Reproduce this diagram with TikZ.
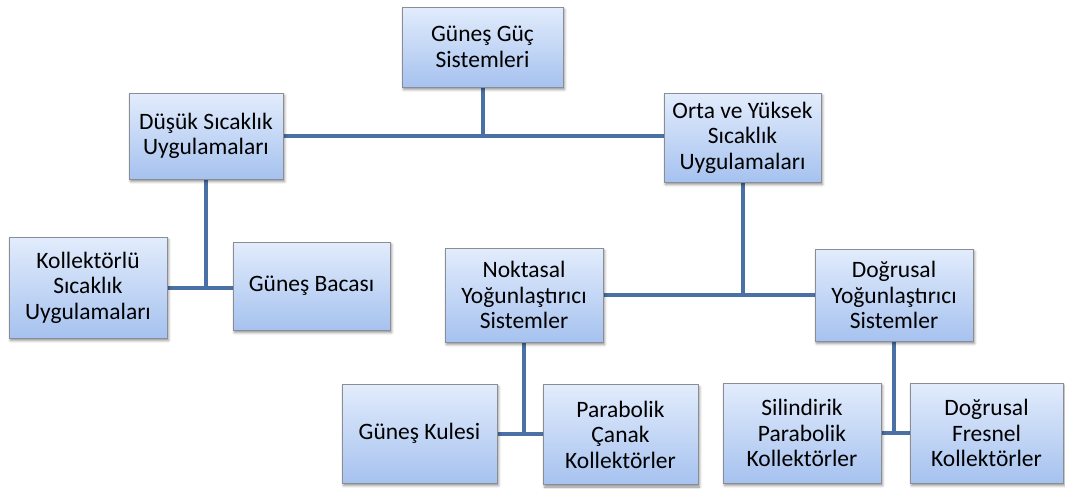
\documentclass[tikz,border=0pt]{standalone}
\usepackage{fontspec}
\setmainfont{Carlito}
\usetikzlibrary{shadows.blur,backgrounds}
\definecolor{boxtop}{HTML}{E2ECFC}
\definecolor{boxbot}{HTML}{A6C2EF}
\definecolor{boxedge}{HTML}{8A8E94}
\definecolor{linkcol}{HTML}{4A70A6}
\tikzset{
  box/.style={draw=boxedge, line width=0.8pt, top color=boxtop, bottom color=boxbot,
    align=center, inner sep=2pt, font=\fontsize{23.5}{25.5}\selectfont,
    blur shadow={shadow xshift=1.5pt, shadow yshift=-2.5pt, shadow blur radius=2.5pt, shadow opacity=45}},
  link/.style={draw=linkcol, line width=4pt}
}
\begin{document}
\begin{tikzpicture}[x=1pt,y=-1pt]
\useasboundingbox (0,0) rectangle (1065,488);
\node[box, minimum width=161pt, minimum height=80pt] (n1) at (482.5,47) {Güneş Güç\\Sistemleri};
\node[box, minimum width=154pt, minimum height=86pt] (n2) at (206,136) {Düşük Sıcaklık\\Uygulamaları};
\node[box, minimum width=157pt, minimum height=89pt] (n3) at (742.5,137.5) {Orta ve Yüksek\\Sıcaklık\\Uygulamaları};
\node[box, minimum width=158pt, minimum height=101pt] (n4) at (88,287.5) {Kollektörlü\\Sıcaklık\\Uygulamaları};
\node[box, minimum width=157pt, minimum height=88pt] (n5) at (311.5,286) {Güneş Bacası};
\node[box, minimum width=158pt, minimum height=94pt] (n6) at (524,295) {Noktasal\\Yoğunlaştırıcı\\Sistemler};
\node[box, minimum width=158pt, minimum height=92pt] (n7) at (894,295) {Doğrusal\\Yoğunlaştırıcı\\Sistemler};
\node[box, minimum width=155pt, minimum height=99pt] (n8) at (419.5,433.5) {Güneş Kulesi};
\node[box, minimum width=155pt, minimum height=100pt] (n9) at (620.5,434.5) {Parabolik\\Çanak\\Kollektörler};
\node[box, minimum width=158pt, minimum height=100pt] (n10) at (802,433) {Silindirik\\Parabolik\\Kollektörler};
\node[box, minimum width=153pt, minimum height=100pt] (n11) at (986.5,433) {Doğrusal\\Fresnel\\Kollektörler};
\begin{scope}[on background layer]
\draw[link] (n2.east) -- (n2.east -| n3.west);
\draw[link] (n1.south) -- (n1.south |- n2.east);
\draw[link] (n4.east) -- (n4.east -| n5.west);
\draw[link] (n2.south) -- (n2.south |- n4.east);
\draw[link] (n6.east) -- (n6.east -| n7.west);
\draw[link] (n3.south) -- (n3.south |- n6.east);
\draw[link] (n8.east) -- (n8.east -| n9.west);
\draw[link] (n6.south) -- (n6.south |- n8.east);
\draw[link] (n10.east) -- (n10.east -| n11.west);
\draw[link] (n7.south) -- (n7.south |- n10.east);
\end{scope}
\end{tikzpicture}
\end{document}
